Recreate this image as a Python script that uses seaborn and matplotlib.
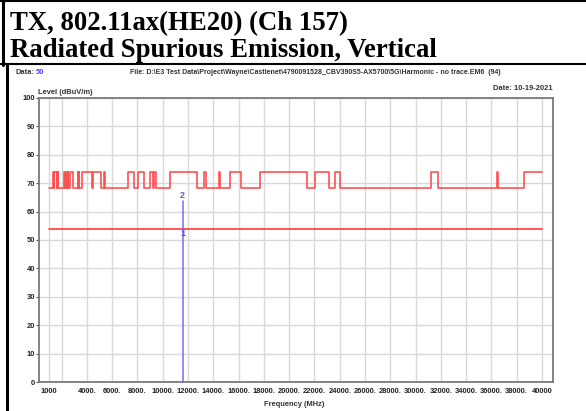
import matplotlib
matplotlib.use("Agg")
import matplotlib.pyplot as plt
import pandas as pd
import seaborn as sns
from matplotlib.lines import Line2D

# band edges (MHz) of the peak/EIRP limit trace and the level that starts at each edge
edges = [1000, 1300, 1427, 1435, 1626.5, 1645.5, 1646.5, 1660, 1710, 1718.8, 1722.2,
         2200, 2300, 2310, 2390, 2483.5, 2500, 2690, 2900, 3260, 3267, 3332, 3339,
         3345.8, 3358, 3600, 4400, 4500, 5150, 5350, 5460, 7250, 7750, 8025, 8500,
         9000, 9200, 9300, 9500, 10600, 12700, 13250, 13400, 14470, 14500, 15350,
         16200, 17700, 21400, 22010, 23120, 23600, 24000, 31200, 31800, 36430,
         36500, 38600, 40000]
levels = [68.2, 74, 68.2, 74, 68.2, 74, 68.2, 74, 68.2, 74, 68.2,
          74, 68.2, 74, 68.2, 74, 68.2, 74, 68.2, 74, 68.2, 74, 68.2,
          74, 68.2, 74, 68.2, 74, 68.2, 74, 68.2, 74, 68.2, 74, 68.2,
          74, 68.2, 74, 68.2, 74, 68.2, 74, 68.2, 74, 68.2, 74,
          68.2, 74, 68.2, 74, 68.2, 74, 68.2, 74, 68.2, 74,
          68.2, 74, 74]

avg_limit_freq = [1000, 40000]
avg_limit_level = [54, 54]

marker_freq = [11570, 11570]
marker_level = [0, 63.6]
marker_labels = ["1", "2"]
marker_label_level = [52.3, 65.6]

xtick_pos = [1000, 2000] + list(range(4000, 40001, 2000))
xtick_lab = ["1000", ""] + [f"{v}." for v in range(4000, 38001, 2000)] + ["40000"]
ytick_pos = list(range(0, 101, 10))

sns.set_style("white")
narrow = ["Liberation Sans Narrow", "Liberation Sans", "DejaVu Sans"]
plt.rcParams["font.family"] = narrow

W, H = 586, 411
fig = plt.figure(figsize=(W / 100, H / 100), dpi=100)

def fx(x):
    return x / W

def fy(y):
    return 1 - y / H

ax = fig.add_axes([fx(39), fy(382), (553 - 39) / W, (382 - 98) / H])

df = pd.DataFrame({"freq": edges, "level": levels})
sns.lineplot(data=df, x="freq", y="level", ax=ax, color="#ff5050", lw=1.2,
             drawstyle="steps-post", sort=False, estimator=None)
sns.lineplot(x=avg_limit_freq, y=avg_limit_level, ax=ax, color="#ff3a3a", lw=1.2)
sns.lineplot(x=marker_freq, y=marker_level, ax=ax, color="#6d6dff", lw=1.1,
             sort=False, estimator=None)
for lab, lv in zip(marker_labels, marker_label_level):
    ax.text(marker_freq[0], lv, lab, color="#5555ee", fontsize=6.5,
            ha="center", va="center", fontweight="bold")

small = 5.4
ax.set_xlim(210, 40870)
ax.set_ylim(0, 100)
ax.set_xticks(xtick_pos)
ax.set_xticklabels(xtick_lab)
ax.set_yticks(ytick_pos)
ax.set_yticklabels([str(v) for v in ytick_pos])
ax.tick_params(axis="x", length=0, pad=4, labelsize=small, labelcolor="#222222")
ax.tick_params(axis="y", length=2, pad=1, labelsize=small, labelcolor="#222222",
               color="#555555", left=True)
for t in ax.get_xticklabels() + ax.get_yticklabels():
    t.set_fontweight("bold")
ax.set_xlabel("")
ax.set_ylabel("")
ax.grid(True, color="#d9d9d9", lw=1)
ax.set_axisbelow(True)
for s in ax.spines.values():
    s.set_color("#7a7a7a")
    s.set_linewidth(1.3)

# header texts
fig.text(fx(10), fy(30.5), "TX, 802.11ax(HE20) (Ch 157)", family="Liberation Serif",
         fontweight="bold", fontsize=19.3, color="black", va="baseline")
fig.text(fx(10), fy(57), "Radiated Spurious Emission, Vertical", family="Liberation Serif",
         fontweight="bold", fontsize=19.3, color="black", va="baseline")

# table borders
fig.add_artist(Line2D([0, 1], [fy(1.5), fy(1.5)], color="black", lw=1.5))
fig.add_artist(Line2D([0, 1], [fy(64.5), fy(64.5)], color="black", lw=1.5))
fig.add_artist(Line2D([fx(3), fx(3)], [fy(0), fy(65)], color="black", lw=2.2))
fig.add_artist(Line2D([fx(7), fx(7)], [fy(64), fy(411)], color="black", lw=2.2))

# instrument header
fig.text(fx(16), fy(73), "Data:", fontsize=small, fontweight="bold", color="#333333", va="center")
fig.text(fx(36), fy(73), "50", fontsize=small, fontweight="bold", color="#4040ff", va="center")
fig.text(fx(315), fy(73),
         r"File: D:\E3 Test Data\Project\Wayne\Castlenet\4790091528_CBV390S5-AX5700\5G\Harmonic - no trace.EM6  (94)",
         fontsize=5.0, fontweight="bold", color="#333333", va="center", ha="center")
fig.text(fx(553), fy(88), "Date: 10-19-2021", fontsize=small, fontweight="bold",
         color="#333333", va="center", ha="right")
fig.text(fx(38), fy(92), "Level (dBuV/m)", fontsize=small, fontweight="bold",
         color="#333333", va="center", ha="left")
fig.text(fx(294), fy(404), "Frequency (MHz)", fontsize=small, fontweight="bold",
         color="#333333", va="center", ha="center")

fig.savefig("out.png", dpi=100)
